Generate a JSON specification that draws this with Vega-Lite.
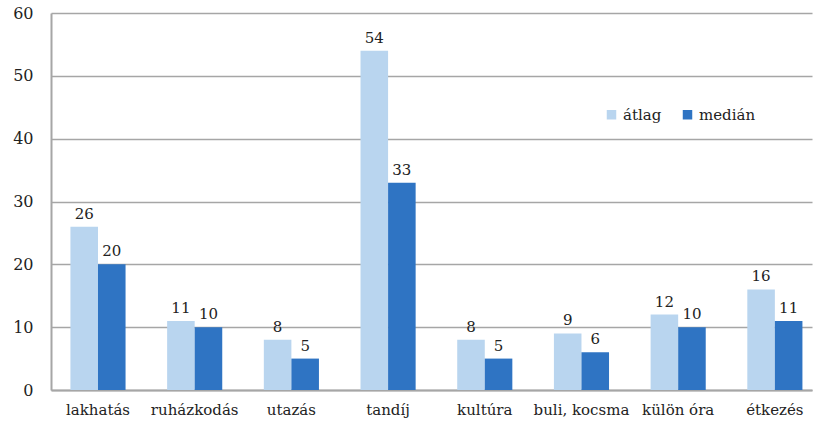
{
  "$schema": "https://vega.github.io/schema/vega-lite/v6.json",
  "width": 761,
  "height": 377,
  "autosize": {"type": "none"},
  "padding": {"left": 51, "top": 13, "right": 2, "bottom": 38},
  "background": "white",
  "config": {
    "view": {"stroke": null},
    "font": "DejaVu Serif",
    "axis": {"labelFont": "DejaVu Serif", "labelColor": "#222", "labelFontSize": 15},
    "legend": {"labelFont": "DejaVu Serif"},
    "text": {"font": "DejaVu Serif"}
  },
  "data": {
    "values": [
      {"kat": "lakhatás", "sorozat": "átlag", "ertek": 26},
      {"kat": "lakhatás", "sorozat": "medián", "ertek": 20},
      {"kat": "ruházkodás", "sorozat": "átlag", "ertek": 11},
      {"kat": "ruházkodás", "sorozat": "medián", "ertek": 10},
      {"kat": "utazás", "sorozat": "átlag", "ertek": 8},
      {"kat": "utazás", "sorozat": "medián", "ertek": 5},
      {"kat": "tandíj", "sorozat": "átlag", "ertek": 54},
      {"kat": "tandíj", "sorozat": "medián", "ertek": 33},
      {"kat": "kultúra", "sorozat": "átlag", "ertek": 8},
      {"kat": "kultúra", "sorozat": "medián", "ertek": 5},
      {"kat": "buli, kocsma", "sorozat": "átlag", "ertek": 9},
      {"kat": "buli, kocsma", "sorozat": "medián", "ertek": 6},
      {"kat": "külön óra", "sorozat": "átlag", "ertek": 12},
      {"kat": "külön óra", "sorozat": "medián", "ertek": 10},
      {"kat": "étkezés", "sorozat": "átlag", "ertek": 16},
      {"kat": "étkezés", "sorozat": "medián", "ertek": 11}
    ]
  },
  "encoding": {
    "x": {
      "field": "kat", "type": "nominal", "sort": null, "title": null,
      "scale": {"paddingInner": 0.43, "paddingOuter": 0.15, "align": 0.67},
      "axis": {"labelAngle": 0, "ticks": false, "domainColor": "#a6a6a6", "domainWidth": 2, "labelPadding": 12}
    },
    "xOffset": {"field": "sorozat", "type": "nominal", "sort": ["átlag", "medián"]},
    "y": {
      "field": "ertek", "type": "quantitative", "title": null,
      "scale": {"domain": [0, 60]},
      "axis": {"values": [0, 10, 20, 30, 40, 50, 60], "ticks": false, "domainColor": "#a6a6a6", "domainWidth": 2, "gridColor": "#a6a6a6", "gridWidth": 1.5, "labelPadding": 18, "labelFontSize": 16}
    }
  },
  "layer": [
    {
      "mark": {"type": "bar"},
      "encoding": {
        "color": {
          "field": "sorozat", "type": "nominal", "sort": ["átlag", "medián"],
          "scale": {"domain": ["átlag", "medián"], "range": ["#b9d5ef", "#2f74c3"]},
          "legend": {"title": null, "orient": "none", "legendX": 553, "legendY": 94, "direction": "horizontal", "symbolType": "square", "symbolSize": 90, "labelFontSize": 15, "labelColor": "#222", "labelOffset": 4, "columnPadding": 18, "symbolStrokeWidth": 0}
        }
      }
    },
    {
      "mark": {"type": "text", "dy": -13, "fontSize": 15, "color": "#222"},
      "encoding": {"text": {"field": "ertek", "type": "quantitative"}}
    }
  ]
}
